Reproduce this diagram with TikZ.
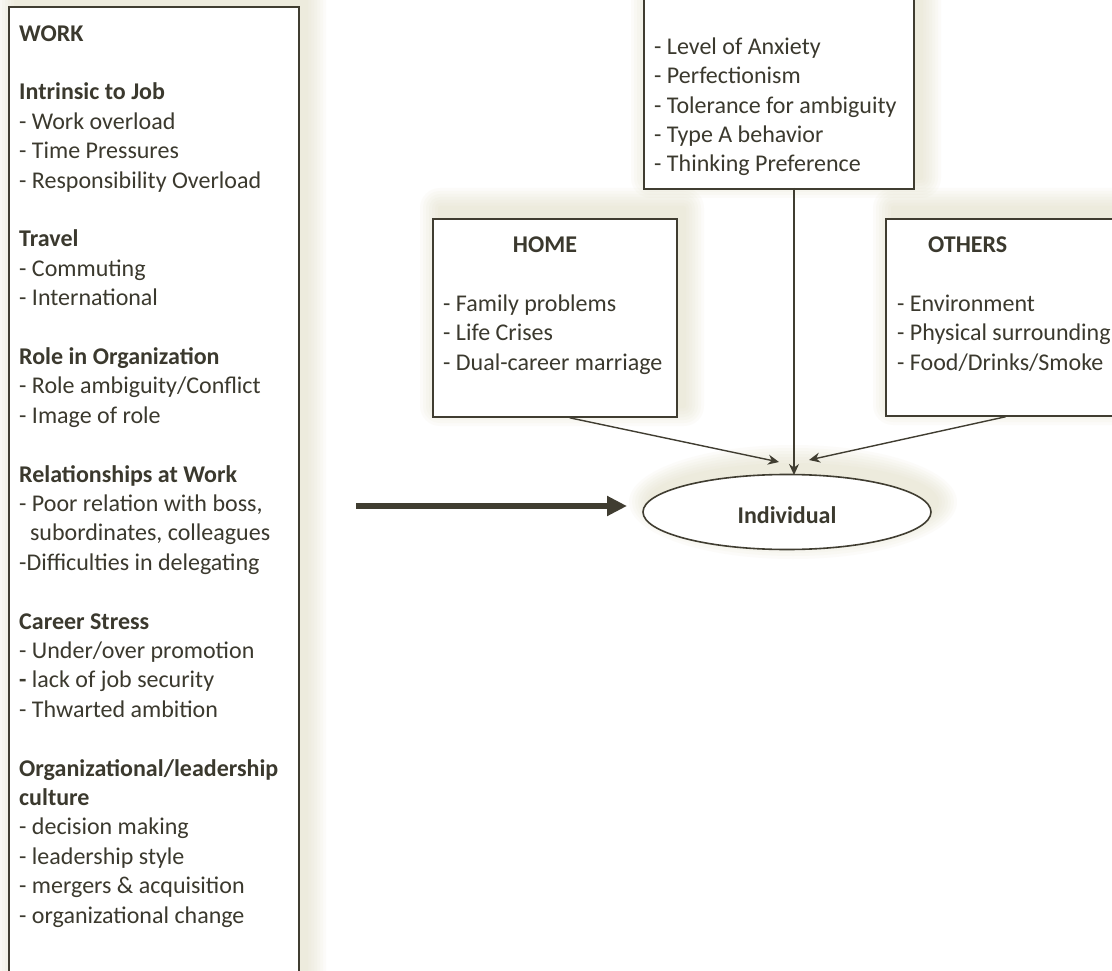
\documentclass[tikz,border=0pt]{standalone}
\usepackage{fontspec}
\setmainfont{Carlito}
\usetikzlibrary{shapes.geometric,arrows.meta,calc}
\definecolor{ink}{HTML}{3B392E}
\definecolor{rule}{HTML}{403D31}
\definecolor{glow}{HTML}{DAD7B8}
\tikzset{
  panel/.style={draw=rule, line width=1.8pt, fill=white, rectangle,
      inner sep=0pt, anchor=north west},
  oval/.style={draw=rule, line width=1.6pt, fill=white, ellipse,
      inner sep=0pt},
  % multi-line texts are placed by the baseline of their last line
  txt/.style={text=ink, align=left, inner sep=0pt, anchor=base west,
      font=\fontsize{24}{29.4}\selectfont},
  thin/.style={draw=rule, line width=1.4pt,
      -{Stealth[length=11pt, width=10pt]}},
  thick/.style={draw=rule, line width=6pt,
      -{Triangle[length=20pt, width=19pt]}},
}
% soft halo behind a rectangle: stacked translucent layers
\newcommand{\boxhalo}[4]{%
  \foreach \r in {2,5,...,20}{%
    \fill[glow, opacity=0.08, rounded corners=\r pt]
      (#1+8-\r,#2-10-\r) rectangle (#3+8+\r,#4-10+\r);}}
\newcommand{\ovalhalo}[4]{%
  \foreach \r in {2,5,...,20}{%
    \fill[glow, opacity=0.08] (#1,#2) ellipse[x radius=#3+\r, y radius=#4+\r];}}
\begin{document}
\begin{tikzpicture}[x=1pt, y=-1pt]
\useasboundingbox (0,0) rectangle (1112,971);
\clip (0,0) rectangle (1112,971);
\fill[white] (0,0) rectangle (1112,971);

% halos
\boxhalo{8}{6}{298}{1006}
\boxhalo{643}{-32}{913}{188}
\boxhalo{432}{218}{676}{416}
\boxhalo{885}{218}{1145}{415}
\ovalhalo{793}{502}{144}{37}

% boxes
\node[panel, minimum width=290pt, minimum height=1000pt] (work) at (8,6) {};
\node[panel, minimum width=270pt, minimum height=220pt] (pers) at (643,-32) {};
\node[panel, minimum width=244pt, minimum height=198pt] (home) at (432,218) {};
\node[panel, minimum width=260pt, minimum height=197pt] (others) at (885,218) {};
\node[oval, minimum width=288pt, minimum height=75pt] (indiv) at (787,512) {};

% texts
\node[txt] (worktext) at (19,923) {%
\textbf{WORK}\\
~\\
\textbf{Intrinsic to Job}\\
- Work overload\\
- Time Pressures\\
- Responsibility Overload\\
~\\
\textbf{Travel}\\
- Commuting\\
- International\\
~\\
\textbf{Role in Organization}\\
- Role ambiguity/Conflict\\
- Image of role\\
~\\
\textbf{Relationships at Work}\\
- Poor relation with boss,\\
\ \ subordinates, colleagues\\
-Difficulties in delegating\\
~\\
\textbf{Career Stress}\\
- Under/over promotion\\
\textbf{-} lack of job security\\
- Thwarted ambition\\
~\\
\textbf{Organizational/leadership}\\
\textbf{culture}\\
- decision making\\
- leadership style\\
- mergers \& acquisition\\
- organizational change};

\node[txt] (perstext) at (654,172) {%
- Level of Anxiety\\
- Perfectionism\\
- Tolerance for ambiguity\\
- Type A behavior\\
- Thinking Preference};

\node[txt, anchor=base] (hometitle) at (545,252) {\textbf{HOME}};
\node[txt] (hometext) at (443,370) {%
- Family problems\\
- Life Crises\\
- Dual-career marriage};

\node[txt] (otherstitle) at (928,252) {\textbf{OTHERS}};
\node[txt] (otherstext) at (897,370) {%
- Environment\\
- Physical surrounding\\
- Food/Drinks/Smoke};

\node[txt, anchor=base] (indivtext) at (787,523) {\textbf{Individual}};

% connectors
\coordinate (homeend) at (779,462);
\coordinate (othersend) at (809,460);
\coordinate (workstart) at (356,506);
\coordinate (workend) at (627,506);
\coordinate (perstop) at (794,188);
\coordinate (persend) at (794,475);
\draw[thin] ($(home.south west)!0.56!(home.south east)$) -- (homeend);
\draw[thin] ($(others.south west)!0.46!(others.south east)$) -- (othersend);
\draw[thin] (perstop) -- (persend);
\draw[thick] (workstart) -- (workend);
\end{tikzpicture}
\end{document}
